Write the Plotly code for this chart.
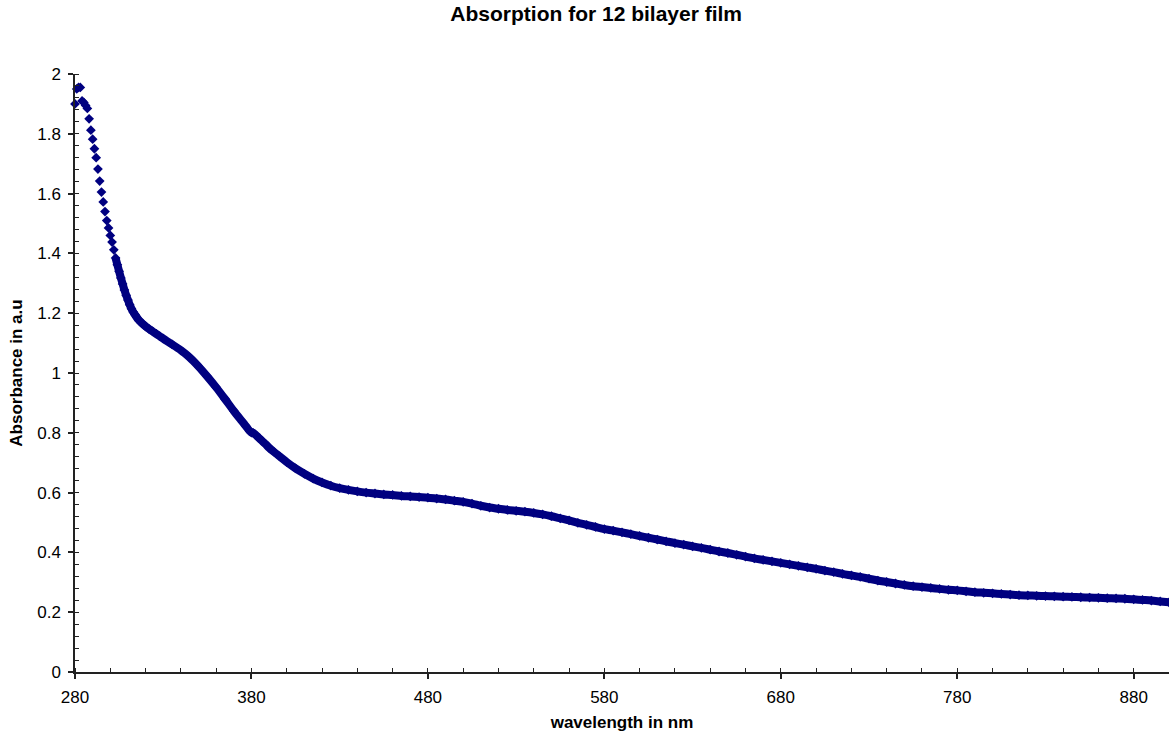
import plotly.graph_objects as go

# wavelength (nm)
wavelength = [
    280, 281, 282, 283, 284, 285, 286, 287, 288, 289,
    290, 291, 292, 293, 294, 295, 296, 297, 298, 299,
    300, 301, 302, 303, 304, 305, 306, 307, 308, 309,
    310, 311, 312, 313, 314, 315, 316, 317, 318, 319,
    320, 322, 324, 326, 328, 330, 335, 340, 345, 350,
    355, 360, 365, 370, 375, 377, 379, 380, 381, 382,
    384, 386, 388, 390, 393, 396, 400, 405, 410, 415,
    420, 425, 430, 435, 440, 445, 450, 455, 460, 465,
    470, 475, 480, 485, 490, 495, 500, 505, 510, 515,
    520, 525, 530, 535, 540, 545, 550, 555, 560, 565,
    570, 575, 580, 585, 590, 595, 600, 605, 610, 615,
    620, 625, 630, 635, 640, 645, 650, 655, 660, 665,
    670, 675, 680, 685, 690, 695, 700, 705, 710, 715,
    720, 725, 730, 735, 740, 745, 750, 755, 760, 765,
    770, 775, 780, 785, 790, 795, 800, 805, 810, 815,
    820, 825, 830, 835, 840, 845, 850, 855, 860, 865,
    870, 875, 880, 885, 890, 895, 900,
]

# absorbance (a.u.)
absorbance = [
    1.900, 1.950, 1.955, 1.955, 1.910, 1.905, 1.895, 1.885, 1.850, 1.812,
    1.782, 1.750, 1.720, 1.682, 1.642, 1.605, 1.572, 1.540, 1.510, 1.485,
    1.460, 1.438, 1.412, 1.385, 1.362, 1.340, 1.318, 1.298, 1.278, 1.260,
    1.244, 1.228, 1.215, 1.204, 1.195, 1.186, 1.178, 1.172, 1.166, 1.161,
    1.156, 1.147, 1.139, 1.131, 1.123, 1.115, 1.096, 1.076, 1.052, 1.022,
    0.988, 0.952, 0.913, 0.873, 0.836, 0.821, 0.806, 0.801, 0.800, 0.795,
    0.784, 0.773, 0.762, 0.750, 0.735, 0.721, 0.702, 0.681, 0.663, 0.647,
    0.634, 0.623, 0.615, 0.609, 0.604, 0.600, 0.597, 0.594, 0.592, 0.589,
    0.587, 0.585, 0.583, 0.580, 0.577, 0.573, 0.569, 0.563, 0.556, 0.550,
    0.546, 0.542, 0.539, 0.536, 0.532, 0.527, 0.521, 0.514, 0.507, 0.499,
    0.492, 0.485, 0.478, 0.473, 0.467, 0.461, 0.455, 0.449, 0.443, 0.437,
    0.431, 0.426, 0.420, 0.415, 0.409, 0.403, 0.398, 0.392, 0.386, 0.380,
    0.375, 0.370, 0.365, 0.360, 0.355, 0.350, 0.345, 0.339, 0.334, 0.328,
    0.323, 0.318, 0.312, 0.306, 0.301, 0.296, 0.291, 0.287, 0.284, 0.281,
    0.278, 0.275, 0.273, 0.270, 0.267, 0.265, 0.263, 0.261, 0.259, 0.257,
    0.256, 0.255, 0.254, 0.253, 0.252, 0.251, 0.250, 0.249, 0.248, 0.247,
    0.246, 0.245, 0.243, 0.241, 0.239, 0.236, 0.233,
]

x_ticks = [280, 380, 480, 580, 680, 780, 880]
y_ticks = [0, 0.2, 0.4, 0.6, 0.8, 1, 1.2, 1.4, 1.6, 1.8, 2]
y_tick_text = ["0", "0.2", "0.4", "0.6", "0.8", "1", "1.2", "1.4", "1.6", "1.8", "2"]

NAVY = "#000080"
AXIS = "#222222"
FONT = "Liberation Sans, Arial, sans-serif"

# dense part of the spectrum, where the markers merge into a band
dense_x = [w for w in wavelength if w >= 303]
dense_y = [a for w, a in zip(wavelength, absorbance) if w >= 303]

fig = go.Figure()
fig.add_trace(go.Scatter(
    x=dense_x, y=dense_y, mode="lines",
    line=dict(color=NAVY, width=8, shape="spline", smoothing=0.8),
    cliponaxis=False, showlegend=False, hoverinfo="skip",
))
fig.add_trace(go.Scatter(
    x=wavelength, y=absorbance, mode="markers",
    marker=dict(symbol="diamond", size=7.5, color=NAVY, line=dict(width=0)),
    cliponaxis=False, showlegend=False,
))

fig.update_layout(
    width=1169, height=734,
    margin=dict(l=75, r=0, t=74, b=62),
    paper_bgcolor="white", plot_bgcolor="white",
    font=dict(family=FONT, color="black", size=17),
    title=dict(text="<b>Absorption for 12 bilayer film</b>",
               x=0.51, xanchor="center", y=0.981, yanchor="middle",
               font=dict(size=21, family=FONT, color="black")),
)

fig.update_xaxes(
    range=[280, 900], tickvals=x_ticks, ticktext=[str(v) for v in x_ticks],
    showgrid=False, zeroline=False,
    showline=True, linecolor=AXIS, linewidth=1.5,
    ticks="outside", ticklen=5, tickcolor=AXIS, tickwidth=1.5,
    ticklabelstandoff=4,
    tickfont=dict(size=17),
    minor=dict(dtick=20, tick0=280, ticks="inside", ticklen=4,
               tickcolor=AXIS, tickwidth=1.2, showgrid=False),
    title=dict(text="<b>wavelength in nm</b>", font=dict(size=17), standoff=10),
)

fig.update_yaxes(
    range=[0, 2], tickvals=y_ticks, ticktext=y_tick_text,
    showgrid=False, zeroline=False,
    showline=True, linecolor=AXIS, linewidth=1.5,
    ticks="outside", ticklen=5, tickcolor=AXIS, tickwidth=1.5,
    ticklabelstandoff=4,
    tickfont=dict(size=17),
    minor=dict(dtick=0.04, tick0=0, ticks="inside", ticklen=4,
               tickcolor=AXIS, tickwidth=1.2, showgrid=False),
    title=dict(text="<b>Absorbance in a.u</b>", font=dict(size=17), standoff=10),
)

fig.write_html("out.html")
